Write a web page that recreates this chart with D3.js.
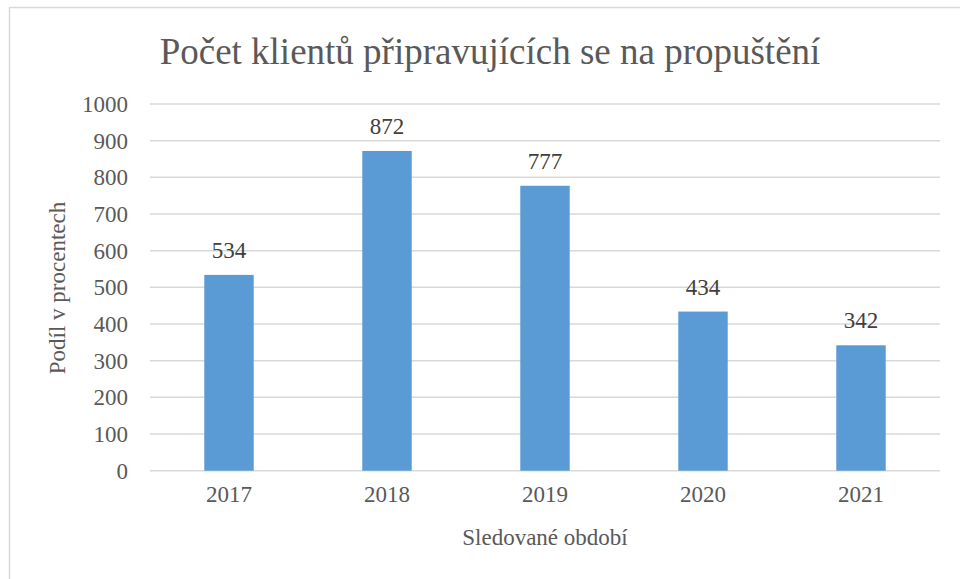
<!DOCTYPE html>
<html>
<head>
<meta charset="utf-8">
<script src="https://cdn.jsdelivr.net/npm/d3@7"></script>
<style>
  html, body { margin: 0; padding: 0; background: #fff; font-family: 'Liberation Serif', serif; }
  #chart { width: 960px; height: 579px; position: relative; }
  #chart svg { display: block; position: absolute; left: 0; top: 0; }
</style>
</head>
<body>
<div id="chart"></div>
<script>
const categories = ["2017", "2018", "2019", "2020", "2021"];
const values = [534, 872, 777, 434, 342];
const yTicks = [0, 100, 200, 300, 400, 500, 600, 700, 800, 900, 1000];
const titleText = "Počet klientů připravujících se na propuštění";
const yTitleText = "Podíl v procentech";
const xTitleText = "Sledované období";

const FONT = "Liberation Serif";
const W = 960, H = 579;
const svg = d3.select("#chart").append("svg").attr("width", W).attr("height", H)
  .attr("font-family", FONT);
svg.append("style").text("text { font-family: 'Liberation Serif', serif; }");

// chart border
svg.append("rect").attr("x", 9.5).attr("y", 7.5).attr("width", 1000).attr("height", 1000)
  .attr("fill", "none").attr("stroke", "#d9d9d9").attr("stroke-width", 1.5);

const plot = { left: 150, right: 940, top: 104, bottom: 470.7 };

const x = d3.scaleBand().domain(categories).range([plot.left, plot.right])
  .paddingInner(0.687).paddingOuter(0.3435);
const y = d3.scaleLinear().domain([0, 1000]).range([plot.bottom, plot.top]);

// gridlines
svg.append("g").selectAll("line").data(yTicks).join("line")
  .attr("x1", plot.left).attr("x2", plot.right)
  .attr("y1", d => y(d)).attr("y2", d => y(d))
  .attr("stroke", "#d9d9d9").attr("stroke-width", 1.5);

// y axis labels
const yAxis = d3.axisLeft(y).tickValues(yTicks).tickSize(0).tickPadding(0).tickFormat(d3.format("d"));
const gy = svg.append("g").attr("transform", `translate(${plot.left - 22},0)`).call(yAxis);
gy.attr("font-family", FONT).attr("font-size", 23);
gy.select(".domain").remove();
gy.selectAll("text").attr("fill", "#595959").attr("font-family", FONT).attr("font-size", 23);

// x axis labels
const xAxis = d3.axisBottom(x).tickSize(0).tickPadding(0);
const gx = svg.append("g").attr("transform", `translate(0,${plot.bottom + 15})`).call(xAxis);
gx.attr("font-family", FONT).attr("font-size", 23);
gx.select(".domain").remove();
gx.selectAll("text").attr("fill", "#595959").attr("font-family", FONT).attr("font-size", 23);

// bars
svg.append("g").selectAll("rect").data(values).join("rect")
  .attr("x", (d, i) => x(categories[i]))
  .attr("width", x.bandwidth())
  .attr("y", d => y(d))
  .attr("height", d => y(0) - y(d))
  .attr("fill", "#5b9bd5");

// data labels
svg.append("g").selectAll("text").data(values).join("text")
  .attr("x", (d, i) => x(categories[i]) + x.bandwidth() / 2)
  .attr("y", d => y(d) - 17)
  .attr("text-anchor", "middle")
  .attr("font-size", 23).attr("fill", "#404040")
  .attr("font-family", FONT)
  .text(d => d);

// title
svg.append("text").attr("x", 490).attr("y", 64).attr("text-anchor", "middle")
  .attr("font-size", 37).attr("fill", "#595959").attr("font-family", FONT).text(titleText);

// y title
svg.append("text").attr("transform", `translate(65,288) rotate(-90)`)
  .attr("text-anchor", "middle").attr("font-size", 23).attr("fill", "#595959")
  .attr("font-family", FONT).text(yTitleText);

// x title
svg.append("text").attr("x", 545).attr("y", 545).attr("text-anchor", "middle")
  .attr("font-size", 23).attr("fill", "#595959").attr("font-family", FONT).text(xTitleText);
</script>
</body>
</html>
